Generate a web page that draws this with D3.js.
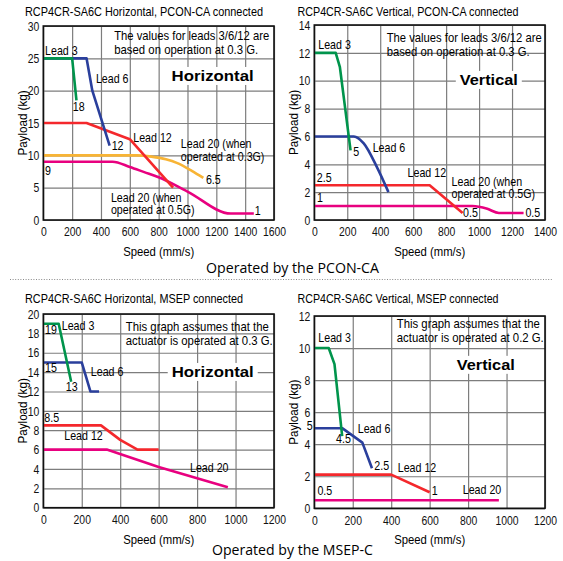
<!DOCTYPE html>
<html>
<head>
<meta charset="utf-8">
<script src="https://cdn.jsdelivr.net/npm/d3@7"></script>
<style>
  html, body { margin: 0; padding: 0; background: #fff; }
  svg { display: block; }
</style>
</head>
<body>
<svg id="chart" width="563" height="561"></svg>
<script>
/* ================================
   DATA  (speed mm/s, payload kg)
================================ */
// PCON-CA, horizontal
const p1Lead3 = [[0, 25], [200, 25], [230, 18.5]];
const p1Lead6 = [[0, 25], [300, 25], [340, 20], [460, 11.5]];
const p1Lead12 = [[0, 15], [300, 15], [600, 12.5], [900, 5]];
const p1Lead20a = [[0, 10], [650, 10], [750, 9.8], [850, 9.4], [930, 8.8], [1030, 7.6], [1110, 6.5]];
const p1Lead20b = [[0, 9], [480, 9], [600, 8.2], [700, 7.4], [800, 6.6], [1000, 4.4], [1300, 1], [1460, 1]];
const p1XTicks = [0, 200, 400, 600, 800, 1000, 1200, 1400, 1600];
const p1YTicks = [0, 5, 10, 15, 20, 25, 30];

// PCON-CA, vertical
const p2Lead3 = [[0, 12], [130, 12], [155, 11], [220, 5]];
const p2Lead6 = [[0, 6], [240, 6], [300, 5.5], [380, 3.8], [450, 2]];
const p2Lead12 = [[0, 2.5], [700, 2.5], [900, 0.5]];
const p2Lead20 = [[0, 1], [960, 1], [1050, 0.8], [1120, 0.5], [1270, 0.5]];
const p2XTicks = [0, 200, 400, 600, 800, 1000, 1200, 1400];
const p2YTicks = [0, 2, 4, 6, 8, 10, 12, 14];

// MSEP-C, horizontal
const p3Lead3 = [[0, 19], [80, 19], [145, 13]];
const p3Lead6 = [[0, 15], [200, 15], [245, 12], [290, 12]];
const p3Lead12 = [[0, 8.5], [300, 8.5], [400, 7], [490, 6], [600, 6]];
const p3Lead20 = [[0, 6], [330, 6], [600, 4.2], [960, 2.1]];
const p3XTicks = [0, 200, 400, 600, 800, 1000, 1200];
const p3YTicks = [0, 2, 4, 6, 8, 10, 12, 14, 16, 18, 20];

// MSEP-C, vertical
const p4Lead3 = [[0, 10], [75, 10], [105, 9], [145, 4.5]];
const p4Lead6 = [[0, 5], [145, 5], [250, 4.1], [300, 2.5]];
const p4Lead12 = [[0, 2.1], [400, 2.1], [600, 1]];
const p4Lead20 = [[0, 0.5], [960, 0.5]];
const p4XTicks = [0, 200, 400, 600, 800, 1000, 1200];
const p4YTicks = [0, 2, 4, 6, 8, 10, 12];

const GREEN = "#00944c", BLUE = "#2a3f9c", RED = "#f4282c", ORANGE = "#f8b435", PINK = "#e8007f";
const FONT = "'Liberation Sans', Arial, sans-serif";
const BOLD_FONT = "'Liberation Sans', Arial, sans-serif";

/* ================================
   PANELS
================================ */
const panels = [
  {
    left: 43.3, right: 274, bottom: 220, top: 26,
    xTicks: p1XTicks, yTicks: p1YTicks,
    title: "RCP4CR-SA6C Horizontal, PCON-CA connected", titleX: 25, titleY: 16, titleW: 238,
    series: [
      { d: p1Lead20a, c: ORANGE, curve: true },
      { d: p1Lead20b, c: PINK, curve: true },
      { d: p1Lead12, c: RED },
      { d: p1Lead6, c: BLUE },
      { d: p1Lead3, c: GREEN }
    ],
    notes: [
      ["The values for leads 3/6/12 are", 492, 27.8, 155],
      ["based on operation at 0.3 G.", 492, 25.6, 144]
    ],
    big: ["Horizontal", 890, 21.5, 82],
    labels: [
      ["Lead 3", 12, 25.5], ["Lead 6", 365, 21.2], ["18", 204, 16.9], ["12", 474, 10.8],
      ["Lead 12", 624, 12.1], ["Lead 20 (when", 954, 11.1], ["operated at 0.3G)", 954, 9.2],
      ["9", 12, 7.0], ["6.5", 1128, 5.57], ["Lead 20 (when", 469, 2.83],
      ["operated at 0.5G)", 469, 0.93], ["1", 1467, 0.77]
    ]
  },
  {
    left: 314.3, right: 545, bottom: 220, top: 25,
    xTicks: p2XTicks, yTicks: p2YTicks,
    title: "RCP4CR-SA6C Vertical, PCON-CA connected", titleX: 297.5, titleY: 16, titleW: 221,
    series: [
      { d: p2Lead20, c: PINK, curve: true },
      { d: p2Lead12, c: RED },
      { d: p2Lead6, c: BLUE, curve: true },
      { d: p2Lead3, c: GREEN }
    ],
    notes: [
      ["The values for leads 3/6/12 are", 439, 12.8, 155],
      ["based on operation at 0.3 G.", 439, 11.8, 143]
    ],
    big: ["Vertical", 883, 9.7, 58],
    labels: [
      ["Lead 3", 24, 12.25], ["5", 236, 4.6], ["Lead 6", 354, 4.9], ["Lead 12", 566, 3.1],
      ["2.5", 15, 2.75], ["Lead 20 (when", 833, 2.47], ["operated at 0.5G)", 833, 1.6],
      ["1", 16, 1.3], ["0.5", 903, 0.24], ["0.5", 1281, 0.24]
    ]
  },
  {
    left: 43.3, right: 274, bottom: 507.7, top: 314,
    xTicks: p3XTicks, yTicks: p3YTicks,
    title: "RCP4CR-SA6C Horizontal, MSEP connected", titleX: 25, titleY: 303, titleW: 218,
    series: [
      { d: p3Lead20, c: PINK },
      { d: p3Lead12, c: RED },
      { d: p3Lead6, c: BLUE },
      { d: p3Lead3, c: GREEN }
    ],
    notes: [
      ["This graph assumes that the", 429, 18.25, 143],
      ["actuator is operated at 0.3 G.", 429, 16.8, 147]
    ],
    big: ["Horizontal", 668, 13.5, 82],
    labels: [
      ["19", 9, 17.9], ["Lead 3", 96, 18.3], ["15", 9, 13.96], ["Lead 6", 247, 13.6],
      ["13", 117, 12.0], ["8.5", 5, 8.87], ["Lead 12", 109, 6.98], ["Lead 20", 763, 3.65]
    ]
  },
  {
    left: 314.3, right: 545, bottom: 508.3, top: 316,
    xTicks: p4XTicks, yTicks: p4YTicks,
    title: "RCP4CR-SA6C Vertical, MSEP connected", titleX: 297.5, titleY: 303, titleW: 201,
    series: [
      { d: p4Lead20, c: PINK },
      { d: p4Lead12, c: RED },
      { d: p4Lead6, c: BLUE },
      { d: p4Lead3, c: GREEN }
    ],
    notes: [
      ["This graph assumes that the", 429, 11.25, 143],
      ["actuator is operated at 0.2 G.", 429, 10.4, 147]
    ],
    big: ["Vertical", 741, 8.64, 58],
    labels: [
      ["Lead 3", 21, 10.4], ["5", -8, 4.9, "end"], ["4.5", 113, 4.06], ["Lead 6", 226, 4.7],
      ["2.5", 312, 2.4], ["Lead 12", 434, 2.29], ["1", 611, 0.83], ["0.5", 16, 0.83],
      ["Lead 20", 772, 0.87]
    ]
  }
];

const svg = d3.select("#chart");

// squeeze text horizontally to mimic a condensed face
function narrow(sel, k) {
  sel.each(function () {
    const w = this.getComputedTextLength();
    if (w > 0) {
      d3.select(this)
        .attr("textLength", w * k)
        .attr("lengthAdjust", "spacingAndGlyphs");
    }
  });
}

/* ================================
   DRAW ONE PANEL
================================ */
function drawPanel(p) {
  const x = d3.scaleLinear()
    .domain([0, p.xTicks[p.xTicks.length - 1]])
    .range([p.left, p.right]);
  const y = d3.scaleLinear()
    .domain([0, p.yTicks[p.yTicks.length - 1]])
    .range([p.bottom, p.top]);

  const g = svg.append("g");

  // grid
  g.append("g")
    .attr("transform", `translate(0,${p.bottom})`)
    .call(d3.axisBottom(x).tickValues(p.xTicks).tickSize(-(p.bottom - p.top)).tickFormat(""))
    .call(a => a.select(".domain").remove())
    .selectAll("line").attr("stroke", "#7d7d7d").attr("stroke-width", 1.2);

  g.append("g")
    .attr("transform", `translate(${p.left},0)`)
    .call(d3.axisLeft(y).tickValues(p.yTicks).tickSize(-(p.right - p.left)).tickFormat(""))
    .call(a => a.select(".domain").remove())
    .selectAll("line").attr("stroke", "#7d7d7d").attr("stroke-width", 1.2);

  // tick labels
  g.append("g")
    .attr("transform", `translate(0,${p.bottom})`)
    .call(d3.axisBottom(x).tickValues(p.xTicks).tickSize(0).tickPadding(7).tickFormat(d3.format("d")))
    .call(a => a.select(".domain").remove())
    .selectAll("text")
    .attr("font-family", FONT).attr("font-size", 13).attr("fill", "#111")
    .call(narrow, 0.8);

  g.append("g")
    .attr("transform", `translate(${p.left},0)`)
    .call(d3.axisLeft(y).tickValues(p.yTicks).tickSize(0).tickPadding(4).tickFormat(d3.format("d")))
    .call(a => a.select(".domain").remove())
    .selectAll("text")
    .attr("font-family", FONT).attr("font-size", 13).attr("fill", "#111")
    .call(narrow, 0.8);

  // big label with white box
  const [bt, bx, by, bw] = p.big;
  const bigBox = g.append("rect").attr("fill", "#fff");
  const big = g.append("text")
    .attr("x", x(bx)).attr("y", y(by))
    .attr("font-family", BOLD_FONT).attr("font-weight", "bold").attr("font-size", 14.5)
    .attr("textLength", bw).attr("lengthAdjust", "spacingAndGlyphs")
    .text(bt);
  const bb = big.node().getBBox();
  bigBox.attr("x", bb.x - 4).attr("y", bb.y - 1).attr("width", bw + 8).attr("height", bb.height + 2);

  // series
  p.series.forEach(s => {
    const line = d3.line()
      .x(d => x(d[0]))
      .y(d => y(d[1]))
      .curve(s.curve ? d3.curveMonotoneX : d3.curveLinear);
    g.append("path")
      .datum(s.d)
      .attr("d", line)
      .attr("fill", "none")
      .attr("stroke", s.c)
      .attr("stroke-width", 2.6)
      .attr("stroke-linejoin", "round");
  });

  // frame
  g.append("rect")
    .attr("x", p.left).attr("y", p.top)
    .attr("width", p.right - p.left).attr("height", p.bottom - p.top)
    .attr("fill", "none").attr("stroke", "#111").attr("stroke-width", 1.6);

  // notes
  p.notes.forEach(([t, nx, ny, w]) => {
    g.append("text")
      .attr("x", x(nx)).attr("y", y(ny))
      .attr("font-family", FONT).attr("font-size", 13)
      .attr("textLength", w).attr("lengthAdjust", "spacingAndGlyphs")
      .text(t);
  });

  // line labels
  p.labels.forEach(([t, lx, ly, anchor]) => {
    g.append("text")
      .attr("x", x(lx)).attr("y", y(ly))
      .attr("text-anchor", anchor || "start")
      .attr("font-family", FONT).attr("font-size", 13)
      .text(t)
      .call(narrow, 0.82);
  });

  // title
  g.append("text")
    .attr("x", p.titleX).attr("y", p.titleY)
    .attr("font-family", FONT).attr("font-size", 13)
    .attr("textLength", p.titleW).attr("lengthAdjust", "spacingAndGlyphs")
    .text(p.title);

  // axis titles
  g.append("text")
    .attr("x", (p.left + p.right) / 2).attr("y", p.bottom + 36)
    .attr("text-anchor", "middle")
    .attr("font-family", FONT).attr("font-size", 13)
    .text("Speed (mm/s)")
    .call(narrow, 0.87);

  g.append("text")
    .attr("transform", `translate(${p.left - 16},${(p.top + p.bottom) / 2}) rotate(-90)`)
    .attr("text-anchor", "middle")
    .attr("font-family", FONT).attr("font-size", 13.5)
    .text("Payload (kg)")
    .call(narrow, 0.86);
}

panels.forEach(drawPanel);

/* ================================
   SECTION CAPTIONS
================================ */
svg.append("text")
  .attr("x", 292.5).attr("y", 273)
  .attr("text-anchor", "middle")
  .attr("font-family", "'Open Sans','DejaVu Sans',sans-serif").attr("font-size", 14)
  .attr("textLength", 173).attr("lengthAdjust", "spacingAndGlyphs")
  .text("Operated by the PCON-CA");

svg.append("line")
  .attr("x1", 10).attr("x2", 553).attr("y1", 279.5).attr("y2", 279.5)
  .attr("stroke", "#8a8a8a").attr("stroke-width", 1)
  .attr("stroke-dasharray", "1,1.6");

svg.append("text")
  .attr("x", 292.5).attr("y", 555)
  .attr("text-anchor", "middle")
  .attr("font-family", "'Open Sans','DejaVu Sans',sans-serif").attr("font-size", 14)
  .attr("textLength", 161).attr("lengthAdjust", "spacingAndGlyphs")
  .text("Operated by the MSEP-C");
</script>
</body>
</html>
